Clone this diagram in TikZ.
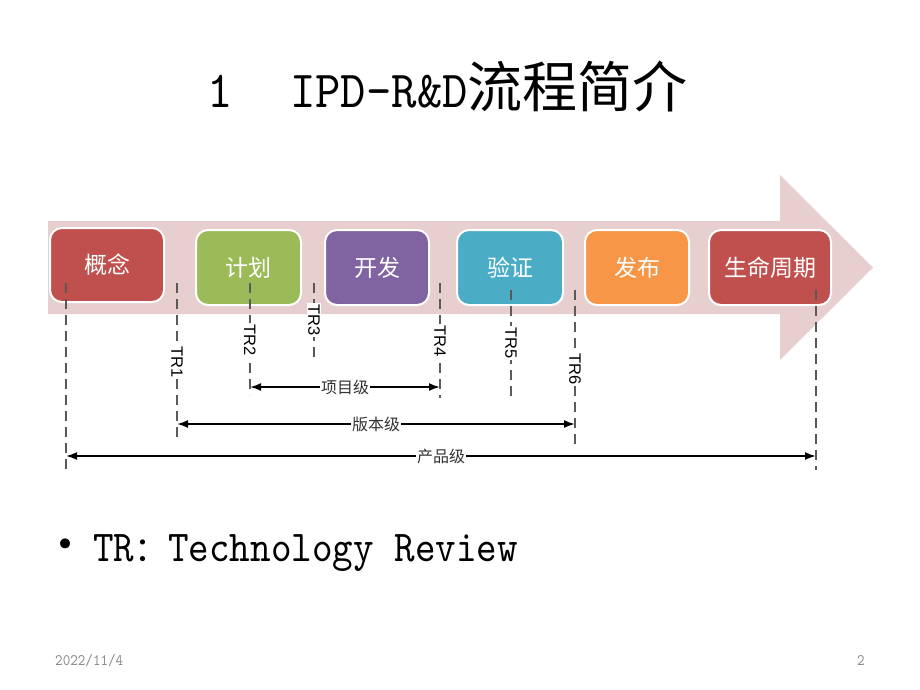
\documentclass[tikz,border=0pt]{standalone}
\usepackage{fontspec}
\newfontfamily\cjk{Noto Sans CJK SC}
\newfontfamily\monotitle[Extension=.otf, FakeStretch=0.93]{lmmono10-regular}
\newfontfamily\monobody[Extension=.otf, FakeStretch=0.89]{lmmono10-regular}
\newfontfamily\monofoot[Extension=.otf, FakeStretch=0.9]{lmmono10-regular}
\newfontfamily\sans{Liberation Sans}
\newfontfamily\dejavu{DejaVu Sans}
\usetikzlibrary{arrows.meta}
\definecolor{band}{RGB}{231,207,208}
\definecolor{cred}{RGB}{192,80,77}
\definecolor{cgreen}{RGB}{155,187,89}
\definecolor{cpurple}{RGB}{128,100,162}
\definecolor{cblue}{RGB}{75,172,198}
\definecolor{corange}{RGB}{247,150,70}
\definecolor{dashgray}{RGB}{90,90,90}
\definecolor{footgray}{RGB}{137,137,137}
\definecolor{lvltext}{RGB}{50,50,50}
\begin{document}
\begin{tikzpicture}[x=1pt,y=-1pt,
  phase/.style={draw=white, line width=2pt, rounded corners=12pt, text=white,
    font=\cjk\fontsize{23}{24}\selectfont, inner sep=0pt, minimum height=75pt},
  trline/.style={draw=dashgray, line width=1.4pt, dash pattern=on 10pt off 6pt},
  trlabel/.style={rotate=-90, fill=white, inner sep=1.5pt, text=black,
    font=\sans\fontsize{16.5}{16.5}\selectfont},
  lvlarrow/.style={draw=black, line width=1.8pt, {Latex[length=11pt,width=8pt]}-{Latex[length=11pt,width=8pt]}},
  lvllabel/.style={fill=white, inner sep=1pt, text=lvltext, font=\cjk\fontsize{16}{16}\selectfont},
  foot/.style={text=footgray, font=\monofoot\fontsize{16}{16}\selectfont, inner sep=0pt}
]
\useasboundingbox (0,0) rectangle (920,690);

% title
\node[anchor=base, inner sep=0pt, font=\monotitle\fontsize{52}{52}\selectfont] (t1) at (220,107) {1};
\node[anchor=base west, inner sep=0pt, font=\monotitle\fontsize{52}{52}\selectfont] (title) at (290,107)
  {IPD-R\&D{\cjk\fontsize{55}{55}\selectfont 流程简介}};

% band arrow
\fill[band] (48,221) -- (780,221) -- (780,175) -- (873,267.5) -- (780,360) -- (780,314) -- (48,314) -- cycle;

% phase boxes
\node[phase, fill=cred, minimum width=114pt, minimum height=74pt] (p1) at (107,265) {概念};
\node[phase, fill=cgreen, minimum width=105pt] (p2) at (248.5,267.5) {计划};
\node[phase, fill=cpurple, minimum width=104pt] (p3) at (377,267.5) {开发};
\node[phase, fill=cblue, minimum width=106pt] (p4) at (510,267.5) {验证};
\node[phase, fill=corange, minimum width=104pt] (p5) at (637,267.5) {发布};
\node[phase, fill=cred, minimum width=122pt] (p6) at (770,267.5) {生命周期};

% dashed lines
\coordinate (a0) at (66,283);  \coordinate (b0) at (66,475);
\coordinate (a1) at (177,283); \coordinate (b1) at (177,438);
\coordinate (a2) at (250,283); \coordinate (b2) at (250,395);
\coordinate (a3) at (314,283); \coordinate (b3) at (314,358);
\coordinate (a4) at (440,283); \coordinate (b4) at (440,398);
\coordinate (a5) at (511,290); \coordinate (b5) at (511,398);
\coordinate (a6) at (575,290); \coordinate (b6) at (575,445);
\coordinate (a7) at (816,290); \coordinate (b7) at (816,470);
\foreach \i in {0,...,7} { \draw[trline] (a\i) -- (b\i); }

% TR labels
\node[trlabel] (tr1) at (177,362) {TR1};
\node[trlabel] (tr2) at (250,340) {TR2};
\node[trlabel] (tr3) at (314,320) {TR3};
\node[trlabel] (tr4) at (440,341) {TR4};
\node[trlabel] (tr5) at (511,343) {TR5};
\node[trlabel] (tr6) at (575,369) {TR6};

% level arrows
\coordinate (l1a) at (250,387); \coordinate (l1b) at (440,387);
\coordinate (l2a) at (177,424); \coordinate (l2b) at (575,424);
\coordinate (l3a) at (66,456);  \coordinate (l3b) at (816,456);
\draw[lvlarrow] (l1a) -- node[lvllabel] (lv1) {项目级} (l1b);
\draw[lvlarrow] (l2a) -- node[lvllabel] (lv2) {版本级} (l2b);
\draw[lvlarrow] (l3a) -- node[lvllabel] (lv3) {产品级} (l3b);

% bullet
\node[inner sep=0pt, font=\dejavu\fontsize{34}{34}\selectfont] (bul) at (66,548) {•};
\node[anchor=base west, inner sep=0pt, font=\monobody\fontsize{44}{44}\selectfont] (btxt) at (93,561)
  {TR{\cjk\fontsize{34}{34}\selectfont ：}Technology Review};

% footer
\node[foot, anchor=base west] (date) at (55,665) {2022/11/4};
\node[foot, anchor=base] (pnum) at (861,665) {2};
\end{tikzpicture}
\end{document}
